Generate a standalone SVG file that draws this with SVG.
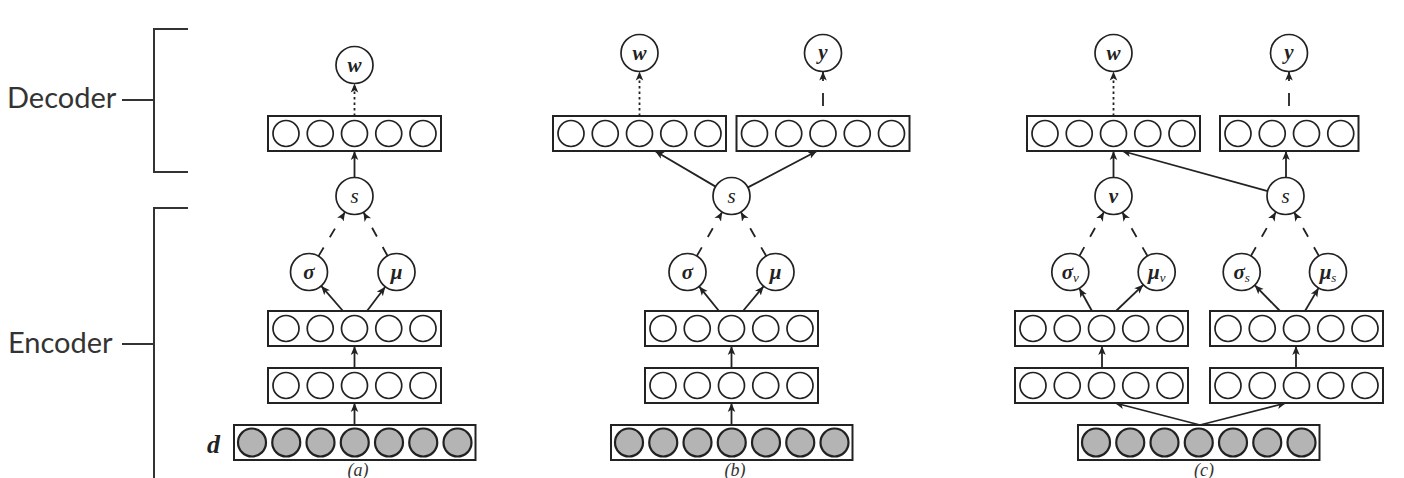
<svg xmlns="http://www.w3.org/2000/svg" xmlns:xlink="http://www.w3.org/1999/xlink" width="1404" height="478" viewBox="0 0 1404 478">
<style>
.box{fill:#fff;stroke:#222;stroke-width:2}
.unit{fill:#fff;stroke:#222;stroke-width:1.7}
.obs{fill:#b4b4b4;stroke:#222;stroke-width:2.2}
.node{fill:#fff;stroke:#222;stroke-width:1.7}
.lbl{font-family:"Liberation Serif",serif;font-style:italic;font-size:21px;fill:#222;text-anchor:middle}
.b{font-weight:bold}
.sub{font-size:13px;font-weight:normal}
.side{font-family:Lato,"DejaVu Sans",sans-serif;font-size:29px;fill:#333}
.cap{font-family:"Liberation Serif",serif;font-style:italic;font-size:18px;fill:#333;text-anchor:middle}
.brk{fill:none;stroke:#333;stroke-width:2}
.c{fill:none;stroke:#222;stroke-width:1.8}
.dash{stroke-dasharray:10 12}
.dot{stroke-dasharray:2.5 3}
</style>
<defs>
<marker id="ah" viewBox="0 0 10 10" markerUnits="userSpaceOnUse" markerWidth="9" markerHeight="9" refX="10" refY="5" orient="auto">
<path d="M0,0.8 L10,5 L0,9.2 L2.5,5 Z" fill="#222"/>
</marker>
<g id="layer5">
<rect class="box" x="0" y="0" width="173" height="35"/>
<circle class="unit" cx="18" cy="17.5" r="13"/>
<circle class="unit" cx="52.25" cy="17.5" r="13"/>
<circle class="unit" cx="86.5" cy="17.5" r="13"/>
<circle class="unit" cx="120.75" cy="17.5" r="13"/>
<circle class="unit" cx="155" cy="17.5" r="13"/>
</g>
<g id="layer4">
<rect class="box" x="0" y="0" width="138.5" height="35"/>
<circle class="unit" cx="18" cy="17.5" r="13"/>
<circle class="unit" cx="52.25" cy="17.5" r="13"/>
<circle class="unit" cx="86.5" cy="17.5" r="13"/>
<circle class="unit" cx="120.75" cy="17.5" r="13"/>
</g>
<g id="input7">
<rect class="box" x="0" y="0" width="241.5" height="35"/>
<circle class="obs" cx="18" cy="17.5" r="14"/>
<circle class="obs" cx="52.25" cy="17.5" r="14"/>
<circle class="obs" cx="86.5" cy="17.5" r="14"/>
<circle class="obs" cx="120.75" cy="17.5" r="14"/>
<circle class="obs" cx="155" cy="17.5" r="14"/>
<circle class="obs" cx="189.25" cy="17.5" r="14"/>
<circle class="obs" cx="223.5" cy="17.5" r="14"/>
</g>
</defs>

<g id="brackets">
<path class="brk" d="M188,29 H154 V172 H188 M122,100 H154"/>
<path class="brk" d="M188,208 H154 V480 M122,344 H154"/>
<text class="side" x="7" y="108">Decoder</text>
<text class="side" x="8" y="353">Encoder</text>
<text x="207" y="453" font-family="Liberation Serif,serif" font-style="italic" font-weight="bold" font-size="26" fill="#222">d</text>
</g>

<g id="connectors">
<!-- panel a -->
<path class="c" marker-end="url(#ah)" d="M354.5,425 L354.5,403"/>
<path class="c" marker-end="url(#ah)" d="M354.5,368 L354.5,346"/>
<path class="c" marker-end="url(#ah)" d="M343,311 L321.2,285.9"/>
<path class="c" marker-end="url(#ah)" d="M367,311 L385.3,286.8"/>
<path class="c dash" marker-end="url(#ah)" d="M318.5,256.1 L345,211.9"/>
<path class="c dash" marker-end="url(#ah)" d="M387.5,255.8 L363.5,212.2"/>
<path class="c" marker-end="url(#ah)" d="M354.5,177.5 L354.5,151"/>
<path class="c dot" marker-end="url(#ah)" d="M354.5,116 L354.5,83.5"/>
<!-- panel b -->
<path class="c" marker-end="url(#ah)" d="M731.5,425 L731.5,403"/>
<path class="c" marker-end="url(#ah)" d="M731.5,368 L731.5,346"/>
<path class="c" marker-end="url(#ah)" d="M719,311 L699.1,286.4"/>
<path class="c" marker-end="url(#ah)" d="M743,311 L763.7,286.2"/>
<path class="c dash" marker-end="url(#ah)" d="M696.8,256 L722.2,212"/>
<path class="c dash" marker-end="url(#ah)" d="M766.2,256 L740.8,212"/>
<path class="c" marker-end="url(#ah)" d="M715.6,186.6 L655,151"/>
<path class="c" marker-end="url(#ah)" d="M747.9,187.4 L817,151"/>
<path class="c dot" marker-end="url(#ah)" d="M639.5,116 L639.5,71.5"/>
<path class="c" stroke-dasharray="13 12 40" marker-end="url(#ah)" d="M823,106 L823,71.5"/>
<!-- panel c -->
<path class="c" marker-end="url(#ah)" d="M1200,425 L1115,403"/>
<path class="c" marker-end="url(#ah)" d="M1200,425 L1286,403"/>
<path class="c" marker-end="url(#ah)" d="M1102,368 L1102,346"/>
<path class="c" marker-end="url(#ah)" d="M1296,368 L1296,346"/>
<path class="c" marker-end="url(#ah)" d="M1092,311 L1079.3,288.2"/>
<path class="c" marker-end="url(#ah)" d="M1116,311 L1143.3,284.8"/>
<path class="c" marker-end="url(#ah)" d="M1280,311 L1254.7,285.2"/>
<path class="c" marker-end="url(#ah)" d="M1305,311 L1318.6,287.9"/>
<path class="c dash" marker-end="url(#ah)" d="M1079.4,255.9 L1103.9,212.1"/>
<path class="c dash" marker-end="url(#ah)" d="M1147.5,256 L1122.2,212"/>
<path class="c dash" marker-end="url(#ah)" d="M1250.9,255.9 L1275.8,212.1"/>
<path class="c dash" marker-end="url(#ah)" d="M1318.9,255.9 L1294.1,212.1"/>
<path class="c" marker-end="url(#ah)" d="M1113.5,177.5 L1113.5,151"/>
<path class="c" marker-end="url(#ah)" d="M1286,177.5 L1286,151"/>
<path class="c" marker-end="url(#ah)" d="M1267.7,191.1 L1122,151"/>
<path class="c dot" marker-end="url(#ah)" d="M1113.5,116 L1113.5,71.5"/>
<path class="c" stroke-dasharray="13 12 40" marker-end="url(#ah)" d="M1289,106 L1289,71.5"/>
</g>

<!-- panel a nodes -->
<g id="a-input"><use xlink:href="#input7" x="234" y="425"/></g>
<g id="a-h1"><use xlink:href="#layer5" x="268" y="368"/></g>
<g id="a-h2"><use xlink:href="#layer5" x="268" y="311"/></g>
<g id="a-sigma"><circle class="node" cx="309" cy="272" r="18.5"/><text class="lbl b" x="309" y="278.5">σ</text></g>
<g id="a-mu"><circle class="node" cx="396.5" cy="272" r="18.5"/><text class="lbl b" x="396.5" y="278.5">μ</text></g>
<g id="a-s"><circle class="node" cx="354.5" cy="196" r="18.5"/><text class="lbl" x="354.5" y="202.5">s</text></g>
<g id="a-dec"><use xlink:href="#layer5" x="268" y="116"/></g>
<g id="a-w"><circle class="node" cx="354.5" cy="65" r="18.5"/><text class="lbl b" x="354.5" y="71.5">w</text></g>
<g id="a-cap"><text class="cap" x="358" y="476">(a)</text></g>

<!-- panel b nodes -->
<g id="b-input"><use xlink:href="#input7" x="611" y="425"/></g>
<g id="b-h1"><use xlink:href="#layer5" x="645" y="368"/></g>
<g id="b-h2"><use xlink:href="#layer5" x="645" y="311"/></g>
<g id="b-sigma"><circle class="node" cx="687.5" cy="272" r="18.5"/><text class="lbl b" x="687.5" y="278.5">σ</text></g>
<g id="b-mu"><circle class="node" cx="775.5" cy="272" r="18.5"/><text class="lbl b" x="775.5" y="278.5">μ</text></g>
<g id="b-s"><circle class="node" cx="731.5" cy="196" r="18.5"/><text class="lbl" x="731.5" y="202.5">s</text></g>
<g id="b-dec-w"><use xlink:href="#layer5" x="553" y="116"/></g>
<g id="b-dec-y"><use xlink:href="#layer5" x="736.5" y="116"/></g>
<g id="b-w"><circle class="node" cx="639.5" cy="53" r="18.5"/><text class="lbl b" x="639.5" y="59.5">w</text></g>
<g id="b-y"><circle class="node" cx="823" cy="53" r="18.5"/><text class="lbl b" x="823" y="58.5">y</text></g>
<g id="b-cap"><text class="cap" x="735" y="476">(b)</text></g>

<!-- panel c nodes -->
<g id="c-input"><use xlink:href="#input7" x="1078" y="425"/></g>
<g id="c-h1v"><use xlink:href="#layer5" x="1015" y="368"/></g>
<g id="c-h2v"><use xlink:href="#layer5" x="1015" y="311"/></g>
<g id="c-h1s"><use xlink:href="#layer5" x="1210" y="368"/></g>
<g id="c-h2s"><use xlink:href="#layer5" x="1210" y="311"/></g>
<g id="c-sigmav"><circle class="node" cx="1070.3" cy="272" r="18.5"/><text class="lbl b" x="1070.3" y="278.5">σ<tspan class="sub" dy="3">v</tspan></text></g>
<g id="c-muv"><circle class="node" cx="1156.7" cy="272" r="18.5"/><text class="lbl b" x="1156.7" y="278.5">μ<tspan class="sub" dy="3">v</tspan></text></g>
<g id="c-sigmas"><circle class="node" cx="1241.7" cy="272" r="18.5"/><text class="lbl b" x="1241.7" y="278.5">σ<tspan class="sub" dy="3">s</tspan></text></g>
<g id="c-mus"><circle class="node" cx="1328" cy="272" r="18.5"/><text class="lbl b" x="1328" y="278.5">μ<tspan class="sub" dy="3">s</tspan></text></g>
<g id="c-v"><circle class="node" cx="1113.5" cy="196" r="18.5"/><text class="lbl b" x="1113.5" y="202.5">v</text></g>
<g id="c-s"><circle class="node" cx="1285.5" cy="196" r="18.5"/><text class="lbl" x="1285.5" y="202.5">s</text></g>
<g id="c-dec-w"><use xlink:href="#layer5" x="1027" y="116"/></g>
<g id="c-dec-y"><use xlink:href="#layer4" x="1220" y="116"/></g>
<g id="c-w"><circle class="node" cx="1113.5" cy="53" r="18.5"/><text class="lbl b" x="1113.5" y="59.5">w</text></g>
<g id="c-y"><circle class="node" cx="1289" cy="53" r="18.5"/><text class="lbl b" x="1289" y="58.5">y</text></g>
<g id="c-cap"><text class="cap" x="1204" y="476">(c)</text></g>
</svg>
